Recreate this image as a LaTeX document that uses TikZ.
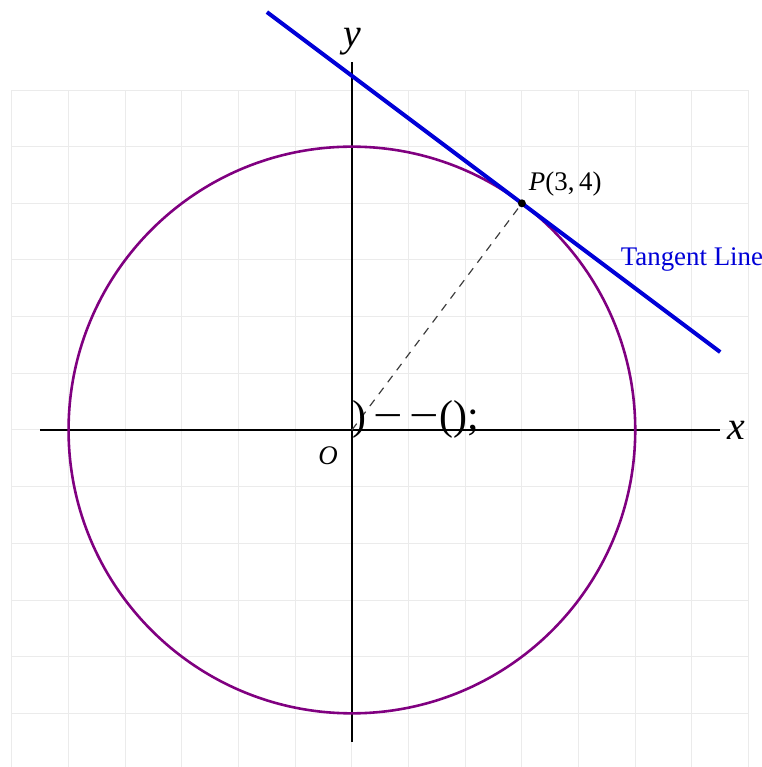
\documentclass[tikz,border=0pt]{standalone}
\usepackage{graphicx}
\usepackage{fontspec}
\setmainfont{Liberation Serif}
\usetikzlibrary{positioning}
\definecolor{circpurple}{RGB}{128,0,128}
\definecolor{tanblue}{RGB}{0,0,215}
\newcommand{\strayminus}{\scalebox{1.25}[1]{−}}

\begin{document}
\begin{tikzpicture}[
    gridline/.style={draw=black!8, line width=0.5pt},
    axis/.style={draw=black, line width=0.85pt},
    circleline/.style={draw=circpurple, line width=1.3pt},
    tangent/.style={draw=tanblue, line width=2pt},
    radiusline/.style={draw=black!75, line width=0.6pt, dash pattern=on 4pt off 3.5pt},
    axislabel/.style={font=\fontsize{20}{24}\selectfont\itshape},
    ptlabel/.style={font=\fontsize{13.5}{16}\selectfont},
    dot/.style={circle, fill=black, inner sep=0pt, minimum size=4pt}
]
    % Frame of the picture
    \useasboundingbox (-6.21,-5.947) rectangle (7.235,7.588);
    % Background grid
    \draw[gridline] (-6,-6) grid (7,6);
    % Axes
    \coordinate (O) at (0,0);
    \coordinate (xmin) at (-5.5,0);
    \coordinate (xmax) at (6.5,0);
    \coordinate (ymin) at (0,-5.5);
    \coordinate (ymax) at (0,6.5);
    \draw[axis] (xmin) -- (xmax);
    \draw[axis] (ymin) -- (ymax);
    \node[axislabel, right] (xlabel) at (xmax) {x};
    \node[axislabel, above] (ylabel) at (ymax) {y};
    \node[ptlabel] (olabel) at (-0.42,-0.45) {\itshape O};
    % Circle x^2+y^2=25
    \draw[circleline] (O) circle (5);
    % Tangent line at P
    \coordinate (tstart) at (-1.5,7.375);
    \coordinate (tend) at (6.5,1.375);
    \draw[tangent] (tstart) -- (tend);
    \node[ptlabel, text=tanblue] (tanlabel) at (6,3) {Tangent Line};
    % Radius to the point of contact
    \node[dot] (P) at (3,4) {};
    \draw[radiusline] (O) -- (P);
    \node[ptlabel, above right] (plabel) at (P) {{\itshape P}(3,\hspace{0.17em}4)};
    \node[anchor=base west, inner sep=0pt, font=\fontsize{21}{24}\selectfont] (stray) at (O) {)\hspace{0.17em}\strayminus\hspace{0.17em}\strayminus();};
\end{tikzpicture}
\end{document}
